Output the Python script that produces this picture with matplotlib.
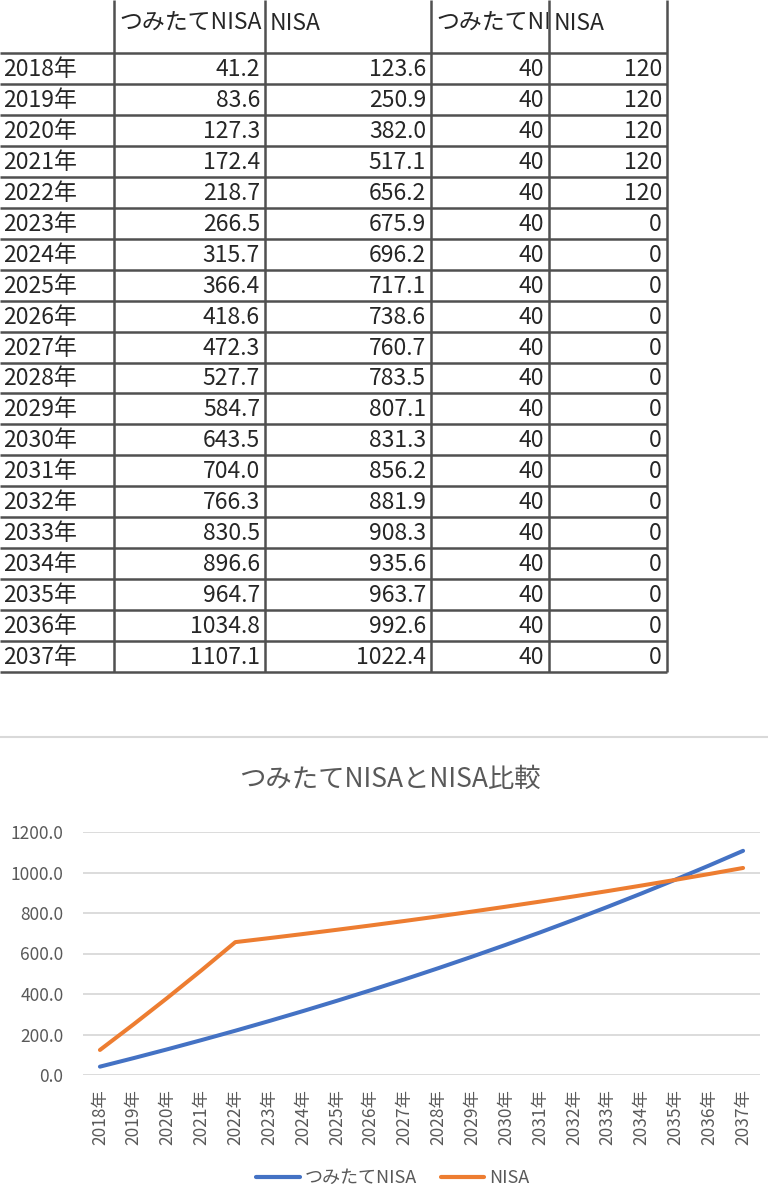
import matplotlib
matplotlib.use("Agg")
import matplotlib.pyplot as plt
from matplotlib.transforms import Bbox, TransformedBbox

plt.rcParams['font.family'] = ['Noto Sans CJK JP', 'DejaVu Sans']

years = ["2018年", "2019年", "2020年", "2021年", "2022年", "2023年", "2024年",
         "2025年", "2026年", "2027年", "2028年", "2029年", "2030年", "2031年",
         "2032年", "2033年", "2034年", "2035年", "2036年", "2037年"]
tsumitate = [41.2, 83.6, 127.3, 172.4, 218.7, 266.5, 315.7, 366.4, 418.6, 472.3,
             527.7, 584.7, 643.5, 704.0, 766.3, 830.5, 896.6, 964.7, 1034.8, 1107.1]
nisa = [123.6, 250.9, 382.0, 517.1, 656.2, 675.9, 696.2, 717.1, 738.6, 760.7,
        783.5, 807.1, 831.3, 856.2, 881.9, 908.3, 935.6, 963.7, 992.6, 1022.4]
tsumitate_yearly = [40] * 20
nisa_yearly = [120, 120, 120, 120, 120] + [0] * 15
headers = ["", "つみたてNISA", "NISA", "つみたてNISA", "NISA"]
title = "つみたてNISAとNISA比較"
yticks = [0, 200, 400, 600, 800, 1000, 1200]

W, H = 768, 1201
fig = plt.figure(figsize=(W / 100, H / 100), dpi=100)
fig.patch.set_facecolor("white")

# ---- table (pixel overlay) ----
ax0 = fig.add_axes([0, 0, 1, 1])
ax0.set_xlim(0, W)
ax0.set_ylim(H, 0)
ax0.axis("off")

col_edges = [0, 114, 265, 431, 549, 667]
top_row = 53
row_h = 30.95
n = len(years)
line_c = "#505050"
for i in range(n + 1):
    y = top_row + i * row_h
    ax0.plot([0, col_edges[-1]], [y, y], color=line_c, lw=1.8, solid_capstyle="butt")
for x in col_edges[1:]:
    ax0.plot([x, x], [0, top_row + n * row_h], color=line_c, lw=1.8, solid_capstyle="butt")

txt_c = "#262626"
fs_tab = 16.5
for j in range(1, 5):
    x0, x1 = col_edges[j], col_edges[j + 1]
    t = ax0.text(x0 + 5, 23, headers[j], ha="left", va="center", fontsize=fs_tab, color=txt_c)
    t.set_clip_box(TransformedBbox(Bbox([[x0 + 1, 0], [x1 - 1, top_row]]), ax0.transData))
    t.set_clip_on(True)

cols = [tsumitate, nisa, tsumitate_yearly, nisa_yearly]
fmts = ["{:.1f}", "{:.1f}", "{:d}", "{:d}"]
for i in range(n):
    yc = top_row + (i + 0.5) * row_h + 1
    ax0.text(3, yc, years[i], ha="left", va="center", fontsize=fs_tab, color=txt_c)
    for j, (vals, f) in enumerate(zip(cols, fmts)):
        ax0.text(col_edges[j + 2] - 5, yc, f.format(vals[i]), ha="right", va="center",
                 fontsize=fs_tab, color=txt_c)

# chart area border
ax0.plot([0, W], [737, 737], color="#d9d9d9", lw=1.5)

# ---- chart ----
grey = "#595959"
ax0.text(390, 779, title, ha="center", va="center", fontsize=19, color=grey)

left, right = 83, 760
top, bottom = 832, 1075
ax = fig.add_axes([left / W, 1 - bottom / H, (right - left) / W, (bottom - top) / H])
x = list(range(n))
ax.plot(x, tsumitate, color="#4472C4", lw=2.9, label="つみたてNISA", solid_capstyle="round")
ax.plot(x, nisa, color="#ED7D31", lw=2.9, label="NISA", solid_capstyle="round")
ax.set_xlim(-0.5, n - 0.5)
ax.set_ylim(0, 1200)
ax.set_yticks(yticks)
ax.set_yticklabels(["{:.1f}".format(v) for v in yticks])
ax.set_xticks(x)
ax.set_xticklabels(years, rotation=90)
ax.grid(axis="y", color="#d9d9d9", lw=1.3)
ax.set_axisbelow(True)
for s in ax.spines.values():
    s.set_visible(False)
ax.tick_params(axis="y", length=0, pad=14, labelsize=12.5, labelcolor=grey)
ax.tick_params(axis="x", length=0, pad=10, labelsize=12.5, labelcolor=grey)
ax.patch.set_alpha(0)

leg = fig.legend(loc="center", bbox_to_anchor=(393 / W, 1 - 1178 / H), ncol=2,
                 frameon=False, fontsize=13, handlelength=2.4, handletextpad=0.3,
                 columnspacing=1.3)
for t in leg.get_texts():
    t.set_color(grey)
for l in leg.get_lines():
    l.set_linewidth(3)

fig.savefig("out.png", dpi=100, facecolor="white")
